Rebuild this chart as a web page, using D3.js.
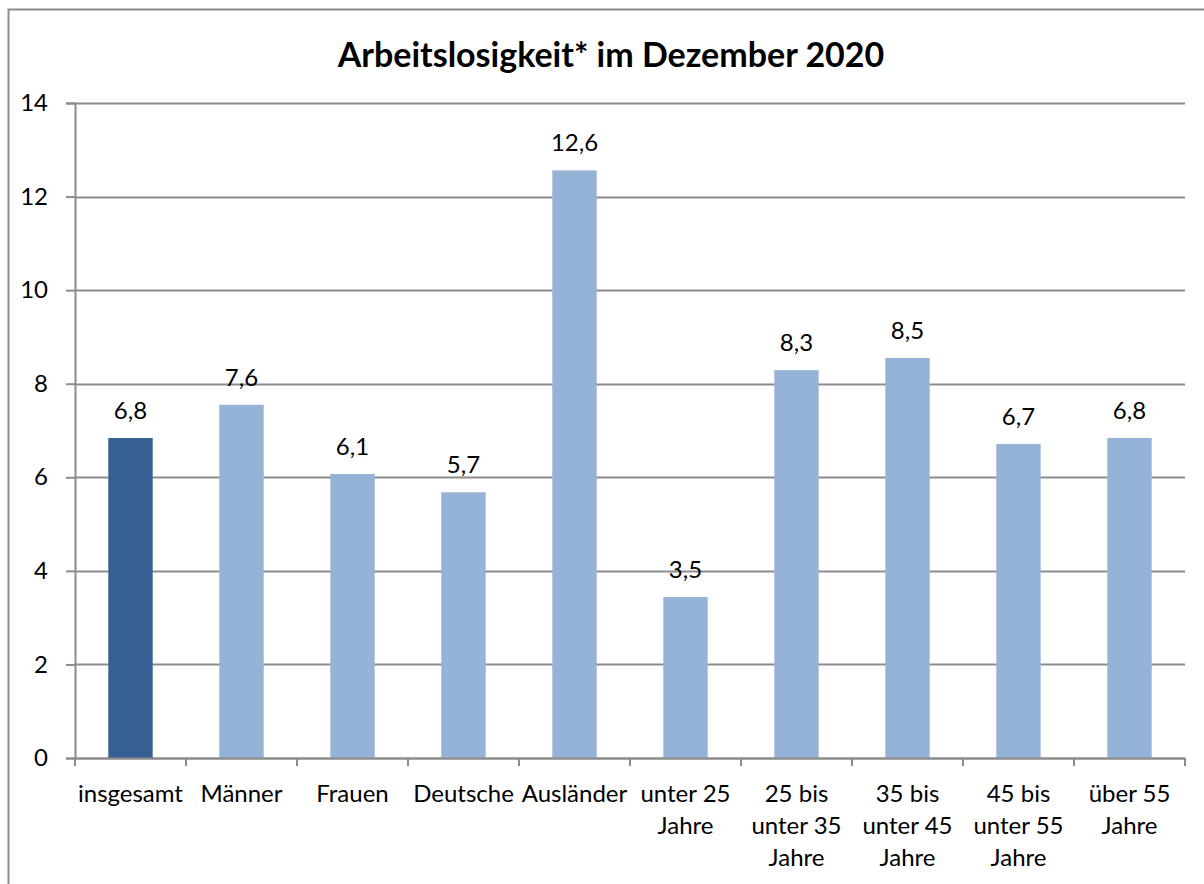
<!DOCTYPE html>
<html>
<head>
<meta charset="utf-8">
<script src="https://cdn.jsdelivr.net/npm/d3@7"></script>
<style>
  body { margin: 0; background: white; }
  svg text { font-family: Lato, "Liberation Sans", sans-serif; fill: black; }
</style>
</head>
<body>
<div id="chart"></div>
<script>
// Arbeitslosenquote Dezember 2020 (in %)
const categories = ["insgesamt", "Männer", "Frauen", "Deutsche", "Ausländer",
    "unter 25 Jahre", "25 bis unter 35 Jahre", "35 bis unter 45 Jahre",
    "45 bis unter 55 Jahre", "über 55 Jahre"];
const categoryLines = [["insgesamt"], ["Männer"], ["Frauen"], ["Deutsche"], ["Ausländer"],
    ["unter 25", "Jahre"], ["25 bis", "unter 35", "Jahre"], ["35 bis", "unter 45", "Jahre"],
    ["45 bis", "unter 55", "Jahre"], ["über 55", "Jahre"]];
const values = [6.84, 7.55, 6.07, 5.68, 12.56, 3.44, 8.29, 8.55, 6.71, 6.84];
const valueLabels = ["6,8", "7,6", "6,1", "5,7", "12,6", "3,5", "8,3", "8,5", "6,7", "6,8"];
const yTicks = [0, 2, 4, 6, 8, 10, 12, 14];

const width = 1204, height = 884;
const margin = { top: 103, left: 75, right: 19, bottom: 126 };
const gridColor = "#8c8c8c";
const fontSize = 24;

const svg = d3.select("#chart")
    .append("svg")
    .attr("width", width)
    .attr("height", height);

// Rahmen des Diagramms
svg.append("rect")
    .attr("x", 8.5).attr("y", 9.5)
    .attr("width", width).attr("height", height)
    .attr("fill", "none")
    .attr("stroke", "#8c8c8c")
    .attr("stroke-width", 2);

svg.append("text")
    .attr("x", 611)
    .attr("y", 67)
    .attr("text-anchor", "middle")
    .attr("font-size", 34)
    .attr("font-weight", "bold")
    .text("Arbeitslosigkeit* im Dezember 2020");

const x = d3.scaleBand()
    .domain(categories)
    .range([margin.left, width - margin.right])
    .paddingInner(0.6)
    .paddingOuter(0.3);

const y = d3.scaleLinear()
    .domain([0, 14])
    .range([height - margin.bottom, margin.top]);

// Gitternetzlinien
svg.append("g")
    .selectAll("line")
    .data(yTicks)
    .join("line")
    .attr("x1", margin.left)
    .attr("x2", width - margin.right)
    .attr("y1", d => Math.round(y(d)) + 0.5)
    .attr("y2", d => Math.round(y(d)) + 0.5)
    .attr("stroke", gridColor)
    .attr("stroke-width", 2);

// Balken
svg.append("g")
    .selectAll("rect")
    .data(values)
    .join("rect")
    .attr("x", (d, i) => x(categories[i]))
    .attr("y", d => y(d))
    .attr("width", x.bandwidth())
    .attr("height", d => y(0) - y(d))
    .attr("fill", (d, i) => i == 0 ? "#376092" : "#95b3d7");

// Datenbeschriftungen
svg.append("g")
    .selectAll("text")
    .data(values)
    .join("text")
    .attr("x", (d, i) => x(categories[i]) + x.bandwidth() / 2)
    .attr("y", d => y(d) - 19)
    .attr("text-anchor", "middle")
    .attr("font-size", fontSize)
    .text((d, i) => valueLabels[i]);

// y-Achse
const yAxis = svg.append("g")
    .attr("transform", "translate(" + margin.left + ",0)")
    .call(d3.axisLeft(y).tickValues(yTicks).tickSize(9).tickPadding(18).tickFormat(d3.format("d")));
yAxis.select(".domain").attr("stroke", gridColor).attr("stroke-width", 2);
yAxis.selectAll(".tick line").attr("stroke", gridColor).attr("stroke-width", 2);
yAxis.selectAll(".tick text").attr("font-size", fontSize).attr("font-family", "Lato, sans-serif");

// x-Achse
const xEdges = d3.range(categories.length + 1).map(i => margin.left + i * x.step());
const xAxis = svg.append("g");
xAxis.append("line")
    .attr("x1", margin.left).attr("x2", width - margin.right)
    .attr("y1", y(0) + 0.5).attr("y2", y(0) + 0.5)
    .attr("stroke", gridColor).attr("stroke-width", 2);
xAxis.selectAll(".xtick")
    .data(xEdges)
    .join("line")
    .attr("x1", d => d).attr("x2", d => d)
    .attr("y1", y(0)).attr("y2", y(0) + 8)
    .attr("stroke", gridColor).attr("stroke-width", 2);

const labels = svg.append("g")
    .selectAll("text")
    .data(categoryLines)
    .join("text")
    .attr("text-anchor", "middle")
    .attr("font-size", fontSize);
labels.each(function (lines, i) {
    const cx = x(categories[i]) + x.bandwidth() / 2;
    d3.select(this).selectAll("tspan")
        .data(lines)
        .join("tspan")
        .attr("x", cx)
        .attr("y", (l, j) => y(0) + 44 + j * 32)
        .text(l => l);
});
</script>
</body>
</html>
